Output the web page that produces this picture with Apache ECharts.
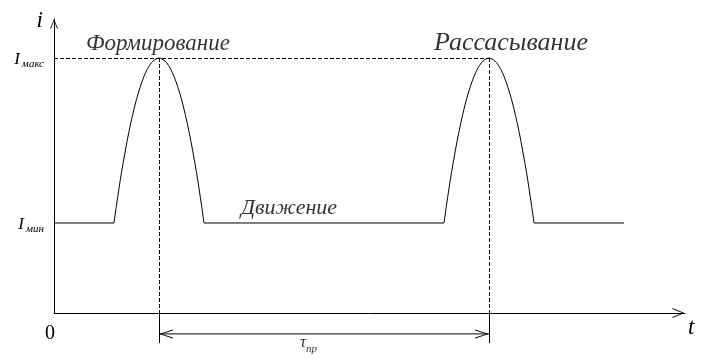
<!DOCTYPE html>
<html>
<head>
<meta charset="utf-8">
<script src="https://cdn.jsdelivr.net/npm/echarts@6/dist/echarts.min.js"></script>
<style>
  html, body { margin: 0; padding: 0; background: #fff; }
  #chart { width: 706px; height: 358px; }
</style>
</head>
<body>
<div id="chart"></div>
<script>
// уровни тока (относительно I макс)
const I_MIN = 0.353
const I_MAX = 1.0

// горизонтальные участки "Движение"
const flatStart = [0, 3.0, 9.6]
const flatEnd = [1.2, 7.8, 11.4]

// импульсы
const pulse1T = [1.2, 1.25, 1.35, 1.5, 1.65, 1.8, 1.95, 2.1, 2.25, 2.4, 2.55, 2.7, 2.85, 2.95, 3.0]
const pulse1I = [0.353, 0.423, 0.551, 0.712, 0.838, 0.928, 0.982, 1.0, 0.982, 0.928, 0.838, 0.712, 0.551, 0.423, 0.353]
const pulse2T = [7.8, 7.85, 7.95, 8.1, 8.25, 8.4, 8.55, 8.7, 8.85, 9.0, 9.15, 9.3, 9.45, 9.55, 9.6]
const pulse2I = [0.353, 0.423, 0.551, 0.712, 0.838, 0.928, 0.982, 1.0, 0.982, 0.928, 0.838, 0.712, 0.551, 0.423, 0.353]

const peakT = [2.1, 8.7]

// подписи осей
const yTickValues = [I_MIN, I_MAX]
const yTickLabels = ['мин', 'макс']
const xTickValues = [0]
const xTickLabels = ['0']

// надписи на поле
const annoText = ['Формирование', 'Рассасывание', 'Движение', 'τ']
const annoT = [2.08, 9.14, 4.70, 5.09]
const annoI = [1.055, 1.059, 0.412, -0.122]
const annoSize = [23, 26, 22, 17]

const TAU_LEVEL = -0.082
const EXT_END = -0.118

const X_MAX = 12.62
const Y_MAX = 1.153
const Y_MIN_FULL = -0.1765

const FONT = '"Liberation Serif", "Times New Roman", serif'
// открытая стрелка, остриё вверху
const CHEVRON = 'path://M5,0 L10,12 L8.9,12 L5,2.3 L1.1,12 L0,12 Z'

const lineBlack = { color: '#000', width: 1 }

let series = []

flatStart.forEach((s, k) => {
  series.push({
    type: 'line',
    xAxisIndex: 0, yAxisIndex: 0,
    data: [[s, I_MIN], [flatEnd[k], I_MIN]],
    showSymbol: false,
    lineStyle: lineBlack
  })
})

;[[pulse1T, pulse1I], [pulse2T, pulse2I]].forEach(p => {
  series.push({
    type: 'line',
    xAxisIndex: 0, yAxisIndex: 0,
    data: p[0].map((t, j) => [t, p[1][j]]),
    smooth: 0.3,
    showSymbol: false,
    lineStyle: lineBlack
  })
})

// размерная линия τ пр со стрелками
series.push({
  type: 'line',
  xAxisIndex: 1, yAxisIndex: 1,
  silent: true,
  clip: false,
  lineStyle: lineBlack,
  itemStyle: { color: '#000' },
  symbol: CHEVRON,
  symbolSize: [9, 14],
  showAllSymbol: true,
  data: [
    { value: [peakT[0], TAU_LEVEL], symbolRotate: 90, symbolOffset: [7, 0] },
    { value: [peakT[1], TAU_LEVEL], symbolRotate: -90, symbolOffset: [-7, 0] }
  ]
})

// пунктир и выносные линии
let markData = [
  [{ coord: [0, I_MAX] }, { coord: [peakT[1], I_MAX], lineStyle: { type: [4, 2] } }]
]
peakT.forEach(t => {
  markData.push([{ coord: [t, I_MAX] }, { coord: [t, 0], lineStyle: { type: [4, 2] } }])
  markData.push([{ coord: [t, 0] }, { coord: [t, EXT_END] }])
})

series.push({
  type: 'scatter',
  xAxisIndex: 1, yAxisIndex: 1,
  symbolSize: 1,
  itemStyle: { color: 'rgba(0,0,0,0)' },
  label: {
    show: true,
    position: 'inside',
    formatter: p => p.dataIndex === 3 ? '{t|τ}{s|пр}' : annoText[p.dataIndex],
    fontFamily: FONT,
    fontStyle: 'italic',
    color: '#000',
    rich: {
      t: { fontFamily: FONT, fontStyle: 'italic', fontSize: 17, color: '#000', verticalAlign: 'bottom', padding: [0, 0, 4, 0] },
      s: { fontFamily: FONT, fontStyle: 'italic', fontSize: 11, color: '#000', verticalAlign: 'bottom', padding: [10, 0, 0, 0] }
    }
  },
  data: annoText.map((txt, k) => ({
    value: [annoT[k], annoI[k]],
    label: { fontSize: annoSize[k] }
  })),
  markLine: {
    silent: true,
    animation: false,
    symbol: 'none',
    label: { show: false },
    lineStyle: { color: '#000', width: 1, type: 'solid' },
    emphasis: { disabled: true },
    data: markData
  }
})

const option = {
  animation: false,
  backgroundColor: '#fff',
  grid: [
    { left: 54, right: 21, top: 19, bottom: 45 },
    { left: 54, right: 21, top: 19, bottom: 0 }
  ],
  xAxis: [{
    type: 'value',
    gridIndex: 0,
    min: 0,
    max: X_MAX,
    name: 't',
    nameLocation: 'end',
    nameGap: 3,
    nameTextStyle: { fontFamily: FONT, fontStyle: 'italic', fontSize: 23, color: '#000', align: 'left', verticalAlign: 'top', lineHeight: 30 },
    axisLine: { show: true, lineStyle: { color: '#000', width: 1 }, symbol: ['none', CHEVRON], symbolSize: [10, 13], symbolOffset: [0, -6.5] },
    axisTick: { show: false },
    splitLine: { show: false },
    axisLabel: {
      customValues: xTickValues,
      formatter: v => xTickLabels[xTickValues.indexOf(v)] || '',
      fontFamily: FONT, fontSize: 20, color: '#000', margin: 11,
      padding: [0, 8, 0, 0]
    }
  }, {
    type: 'value', gridIndex: 1, min: 0, max: X_MAX, show: false
  }],
  yAxis: [{
    type: 'value',
    gridIndex: 0,
    min: 0,
    max: Y_MAX,
    name: 'i',
    nameLocation: 'end',
    nameGap: -2,
    nameTextStyle: { fontFamily: FONT, fontStyle: 'italic', fontSize: 23, color: '#000', align: 'right', verticalAlign: 'middle', padding: [0, 11, 0, 0] },
    axisLine: { show: true, lineStyle: { color: '#000', width: 1 }, symbol: ['none', CHEVRON], symbolSize: [8, 10], symbolOffset: [0, -5] },
    axisTick: { show: false },
    splitLine: { show: false },
    axisLabel: {
      customValues: yTickValues,
      formatter: v => '{I|I}{s|' + (yTickLabels[yTickValues.indexOf(v)] || '') + '}',
      margin: 10,
      rich: {
        I: { fontFamily: FONT, fontStyle: 'italic', fontSize: 17, color: '#000', verticalAlign: 'bottom', padding: [0, 2, 1, 0] },
        s: { fontFamily: FONT, fontStyle: 'italic', fontSize: 11, color: '#000', verticalAlign: 'bottom', padding: [12, 0, 0, 0] }
      }
    }
  }, {
    type: 'value', gridIndex: 1, min: Y_MIN_FULL, max: Y_MAX, show: false
  }],
  series: series
}

const chart = echarts.init(document.getElementById('chart'))
chart.setOption(option)
</script>
</body>
</html>
